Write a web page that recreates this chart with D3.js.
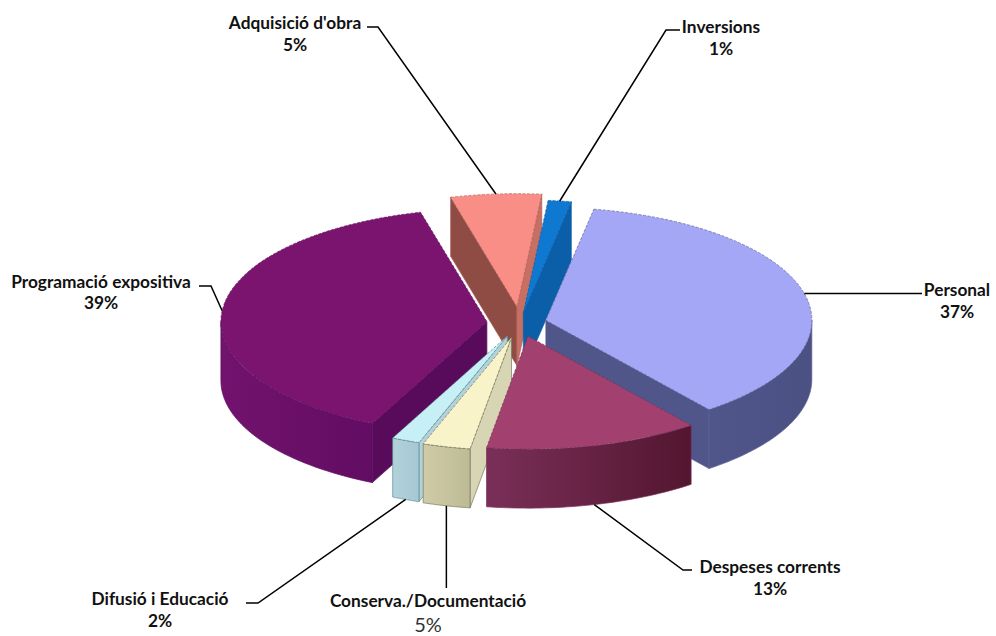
<!DOCTYPE html>
<html>
<head>
<meta charset="utf-8">
<script src="https://cdn.jsdelivr.net/npm/d3@7"></script>
<style>
  body { margin: 0; background: #fff; }
  text { font-family: Lato, "Open Sans", sans-serif; font-size: 17.3px; font-weight: 700; fill: #111; text-anchor: middle; }
</style>
</head>
<body>
<div id="my_dataviz"></div>
<script>
// values (the slices, not the printed labels, which add up to 102)
var categories = ["Personal", "Despeses corrents", "Conserva./Documentació", "Difusió i Educació",
                  "Programació expositiva", "Adquisició d'obra", "Inversions"];
var values = [36.6, 13.0, 2.9, 1.7, 38.9, 5.5, 1.4];
var percentLabels = ["37%", "13%", "5%", "2%", "39%", "5%", "1%"];

// how far each slice is pulled out, as a share of the radius
var explode = [0.1, 0.12, 0.13, 0.125, 0.125, 0.145, 0.09];

// colours: top face, outer wall left and right, cut faces
var topColors = ["#a3a7f6", "#a2416f", "#f9f3c9", "#c6f0f6", "#7a146f", "#f98e86", "#0f78d0"];
var wallLeft = ["#50558a", "#7a2f58", "#cfcba6", "#b2d2da", "#72136e", "#8e4c44", "#0b5fa8"];
var wallRight = ["#4c5184", "#531630", "#bdbb96", "#a5c8d2", "#620c63", "#8e4c44", "#0b5fa8"];
var cutColors = ["#50558a", "#7a2f58", "#d8d5b4", "#b2d2da", "#590b5b", "#8e4c44", "#0b5fa8"];
var edgeColors = ["#5f6398", "#7a2f58", "#77775c", "#5f8b94", "#5d0d5e", "#b0625a", "#0b5fa8"];

// back slices first
var drawOrder = [5, 6, 0, 4, 3, 2, 1];

// label centre, baselines and the ends of the leader line (null: straight above the rim point)
var labelPos = [
  {x: 957, y1: 296, y2: 318, elbow: [922, 293.5], bend: null},
  {x: 770, y1: 573, y2: 595, elbow: [692, 570], bend: [683, 570]},
  {x: 428, y1: 607, y2: 632, elbow: [null, 588], bend: null},
  {x: 160, y1: 605, y2: 627, elbow: [246, 603], bend: [258, 603]},
  {x: 101, y1: 288, y2: 309, elbow: [199, 286], bend: [211, 286]},
  {x: 295, y1: 29, y2: 51, elbow: [367, 27], bend: [378, 27]},
  {x: 721, y1: 33, y2: 55, elbow: [680, 30], bend: [666, 30]}
];

var width = 996, height = 636;
var cx = 520, cy = 323, rx = 266, ry = 113, depth = 59;
var squash = ry / rx;

var svg = d3.select("#my_dataviz")
  .append("svg")
    .attr("width", width)
    .attr("height", height)
    .style("display", "block");

var start = 10.4 * Math.PI / 180;
var pie = d3.pie().sort(null).value(function(d) { return d; })
  .startAngle(start).endAngle(start + 2 * Math.PI);
var arcs = pie(values);

// point on the rim of slice i at a given angle
function rim(i, a) {
  var p = d3.pointRadial(a, rx);
  return [apex(i)[0] + p[0], apex(i)[1] + p[1] * squash];
}

function apex(i) {
  var mid = (arcs[i].startAngle + arcs[i].endAngle) / 2;
  var p = d3.pointRadial(mid, rx * explode[i]);
  return [cx + p[0], cy + p[1] * squash];
}

var defs = svg.append("defs");
categories.forEach(function(c, i) {
  var g = defs.append("linearGradient").attr("id", "wall" + i);
  g.append("stop").attr("offset", "0%").attr("stop-color", wallLeft[i]);
  g.append("stop").attr("offset", "100%").attr("stop-color", wallRight[i]);
});

var polygon = d3.line().curve(d3.curveLinearClosed);
var rimArea = d3.area()
  .x(function(d) { return d[0]; })
  .y0(function(d) { return d[1]; })
  .y1(function(d) { return d[1] + depth; });
var topArc = d3.arc().innerRadius(0).outerRadius(rx);

function cutWall(i, a) {
  var c = apex(i), r = rim(i, a);
  return polygon([c, r, [r[0], r[1] + depth], [c[0], c[1] + depth]]);
}

drawOrder.forEach(function(i) {
  var d = arcs[i];
  var g = svg.append("g").attr("class", "slice");

  // cut faces that look at the viewer
  if (Math.sin(d.startAngle) < 0) {
    g.append("path").attr("d", cutWall(i, d.startAngle))
      .attr("fill", cutColors[i]).attr("stroke", edgeColors[i]).attr("stroke-width", 0.7);
  }
  if (Math.sin(d.endAngle) > 0) {
    g.append("path").attr("d", cutWall(i, d.endAngle))
      .attr("fill", i == 5 ? "#c76f62" : cutColors[i]).attr("stroke", edgeColors[i]).attr("stroke-width", 0.7);
  }

  // outer wall, only the front half of the ellipse shows
  var a0 = Math.max(d.startAngle, Math.PI / 2), a1 = Math.min(d.endAngle, 3 * Math.PI / 2);
  if (a1 > a0) {
    var steps = d3.range(0, 41).map(function(k) { return rim(i, a0 + (a1 - a0) * k / 40); });
    g.append("path").attr("d", rimArea(steps))
      .attr("fill", "url(#wall" + i + ")").attr("stroke", edgeColors[i]).attr("stroke-width", 0.7);
  }

  // top face
  var c = apex(i);
  g.append("path")
    .attr("d", topArc(d))
    .attr("transform", "translate(" + c[0] + "," + c[1] + ") scale(1," + squash + ")")
    .attr("fill", topColors[i])
    .attr("stroke", edgeColors[i])
    .attr("stroke-width", 0.7)
    .attr("stroke-dasharray", "3,1.5")
    .attr("vector-effect", "non-scaling-stroke");
});

// leader lines and labels
var leader = d3.line();
categories.forEach(function(c, i) {
  var d = arcs[i], pos = labelPos[i];
  var mid = (d.startAngle + d.endAngle) / 2;
  var r = rim(i, mid);
  if (Math.cos(mid) < 0) r[1] += depth;
  var pts = [[pos.elbow[0] === null ? r[0] : pos.elbow[0], pos.elbow[1]]];
  if (pos.bend) pts.push(pos.bend);
  pts.push(r);
  svg.append("path")
    .attr("d", leader(pts))
    .attr("fill", "none")
    .attr("stroke", "#000")
    .attr("stroke-width", 1.5);

  svg.append("text").attr("x", pos.x).attr("y", pos.y1).text(c);
  var t = svg.append("text").attr("x", pos.x).attr("y", pos.y2).text(percentLabels[i]);
  if (i == 2) t.style("font-weight", 400).style("font-size", "20px").style("fill", "#333");
});
</script>
</body>
</html>
